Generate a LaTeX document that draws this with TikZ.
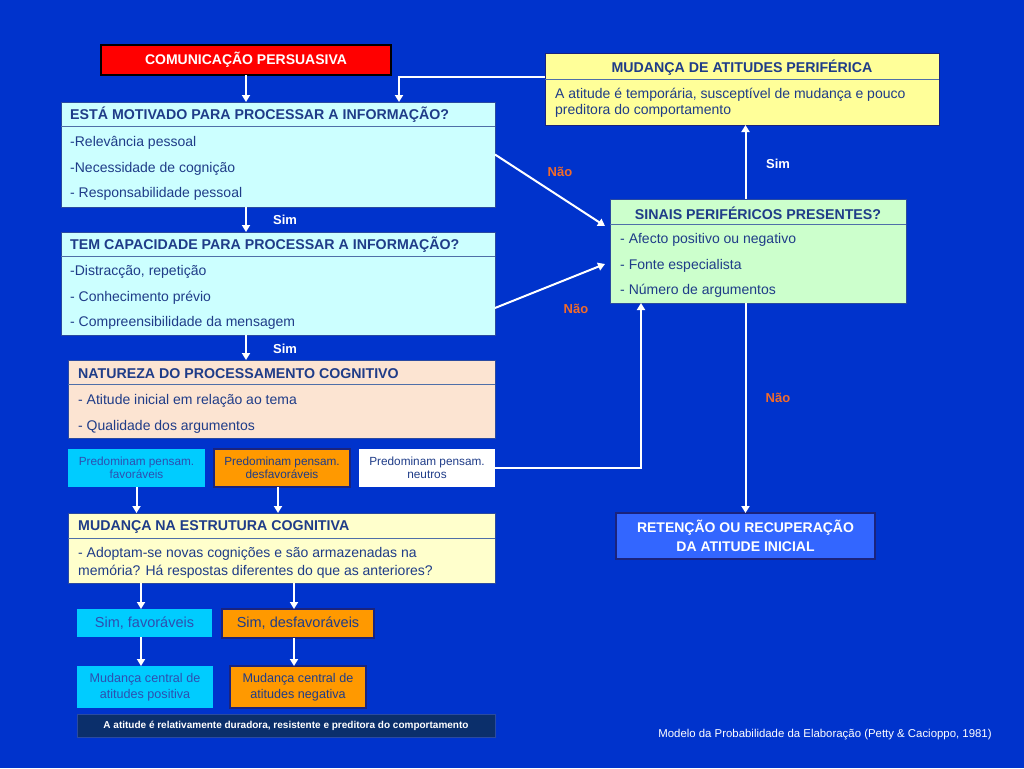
\documentclass[tikz,border=0pt]{standalone}
\usepackage{fontspec}
\setmainfont{Liberation Sans}
\usetikzlibrary{arrows.meta,calc}
\definecolor{bg}{HTML}{0033CC}
\definecolor{lcyan}{HTML}{CCFFFF}
\definecolor{peach}{HTML}{FCE4D2}
\definecolor{lyellow}{HTML}{FFFFCC}
\definecolor{yel}{HTML}{FFFF99}
\definecolor{lgreen}{HTML}{CCFFCC}
\definecolor{cya}{HTML}{00CCFF}
\definecolor{ora}{HTML}{FF9900}
\definecolor{retc}{HTML}{3366FF}
\definecolor{darkbar}{HTML}{0B2F6B}
\definecolor{navy}{HTML}{1F3C88}
\definecolor{midblue}{HTML}{2E4FB0}
\definecolor{nao}{HTML}{F26B2A}
\definecolor{boxline}{HTML}{2A4AA0}
\definecolor{divc}{HTML}{4F6FA8}
\definecolor{darkborder}{HTML}{1A237E}
\begin{document}
\begin{tikzpicture}[x=1pt,y=-1pt,
  box/.style={draw=boxline, line width=1pt, inner sep=0pt, outer sep=0pt, anchor=north west},
  hdr/.style={font=\fontsize{14.2}{16}\selectfont\bfseries, text=navy, anchor=west, inner sep=0pt, yshift=-1pt},
  itm/.style={font=\fontsize{14}{16}\selectfont, text=navy, anchor=west, inner sep=0pt, yshift=-1.5pt},
  small/.style={font=\fontsize{11.8}{13.5}\selectfont, text=midblue, align=center},
  med/.style={font=\fontsize{14.5}{16}\selectfont, text=midblue, align=center},
  divline/.style={draw=divc, line width=1pt},
  arr/.style={draw=white, line width=2pt, -{Triangle[width=8pt,length=7pt]}},
  simlbl/.style={font=\fontsize{13}{15}\selectfont\bfseries, text=white, inner sep=0pt},
  naolbl/.style={font=\fontsize{13}{15}\selectfont\bfseries, text=nao, inner sep=0pt},
  orabox/.style={box, fill=ora, draw=darkborder, line width=2pt}
]
\fill[bg] (0,0) rectangle (1024,768);
\useasboundingbox (0,0) rectangle (1024,768);

% top red box
\node[box, fill=red, draw=black, line width=2pt, minimum width=290pt, minimum height=30pt,
  font=\fontsize{14}{16}\selectfont\bfseries, text=white] (com) at (101,45) {COMUNICAÇÃO PERSUASIVA};

% motivation box
\node[box, fill=lcyan, minimum width=434pt, minimum height=105pt] (mot) at (61,102) {};
\draw[divline] ($(mot.north west)+(0,24)$) -- ($(mot.north east)+(0,24)$);
\node[hdr] (moth) at (70,114) {ESTÁ MOTIVADO PARA PROCESSAR A INFORMAÇÃO?};
\node[itm] (mot1) at (70,141) {-Relevância pessoal};
\node[itm] (mot2) at (70,167) {-Necessidade de cognição};
\node[itm] (mot3) at (70,192) {- Responsabilidade pessoal};

% capacity box
\node[box, fill=lcyan, minimum width=434pt, minimum height=103pt] (cap) at (61,232) {};
\draw[divline] ($(cap.north west)+(0,24)$) -- ($(cap.north east)+(0,24)$);
\node[hdr] (caph) at (70,244) {TEM CAPACIDADE PARA PROCESSAR A INFORMAÇÃO?};
\node[itm] (cap1) at (70,270) {-Distracção, repetição};
\node[itm] (cap2) at (70,296) {- Conhecimento prévio};
\node[itm] (cap3) at (70,321) {- Compreensibilidade da mensagem};

% natureza box
\node[box, fill=peach, minimum width=427pt, minimum height=78pt] (nat) at (68,360) {};
\draw[divline] ($(nat.north west)+(0,24)$) -- ($(nat.north east)+(0,24)$);
\node[hdr] (nath) at (78,373) {NATUREZA DO PROCESSAMENTO COGNITIVO};
\node[itm] (nat1) at (78,399) {- Atitude inicial em relação ao tema};
\node[itm] (nat2) at (78,425) {- Qualidade dos argumentos};

% three small boxes
\node[box, fill=cya, draw=none, minimum width=137pt, minimum height=38pt, small] (fav) at (68,449) {Predominam pensam.\\favoráveis};
\node[orabox, minimum width=136pt, minimum height=38pt, small, text=navy] (des) at (214,449) {Predominam pensam.\\desfavoráveis};
\node[box, fill=white, draw=none, minimum width=136pt, minimum height=38pt, small, text=navy] (neu) at (359,449) {Predominam pensam.\\neutros};

% estrutura cognitiva box
\node[box, fill=lyellow, minimum width=427pt, minimum height=70pt] (est) at (68,513) {};
\draw[divline] ($(est.north west)+(0,25)$) -- ($(est.north east)+(0,25)$);
\node[hdr] (esth) at (78,526) {MUDANÇA NA ESTRUTURA COGNITIVA};
\node[itm, font=\fontsize{14}{18}\selectfont, align=left] (est1) at (78,561) {- Adoptam-se novas cognições e são armazenadas na\\memória? Há respostas diferentes do que as anteriores?};

% sim boxes
\node[box, fill=cya, draw=none, minimum width=135pt, minimum height=28pt, med] (sfav) at (77,609) {Sim, favoráveis};
\node[orabox, minimum width=152pt, minimum height=29pt, med, text=navy] (sdes) at (222,609) {Sim, desfavoráveis};

% central change boxes
\node[box, fill=cya, draw=none, minimum width=136pt, minimum height=42pt, med, font=\fontsize{12.6}{16}\selectfont] (mpos) at (77,666) {Mudança central de\\atitudes positiva};
\node[orabox, minimum width=136pt, minimum height=42pt, med, text=navy, font=\fontsize{12.6}{16}\selectfont] (mneg) at (230,666) {Mudança central de\\atitudes negativa};

% bottom bar
\node[box, fill=darkbar, draw=boxline, minimum width=418pt, minimum height=23pt,
  font=\fontsize{10}{12}\selectfont\bfseries, text=white] (bar) at (77,714) {A atitude é relativamente duradora, resistente e preditora do comportamento};

% peripheral change box
\node[box, fill=yel, draw=darkborder, minimum width=394pt, minimum height=71pt] (per) at (545,54) {};
\draw[divline] ($(per.north west)+(0,25)$) -- ($(per.north east)+(0,25)$);
\node[hdr, anchor=center] (perh) at (742,67) {MUDANÇA DE ATITUDES PERIFÉRICA};
\node[itm, font=\fontsize{14}{16}\selectfont, align=left] (per1) at (555,101) {A atitude é temporária, susceptível de mudança e pouco\\preditora do comportamento};

% peripheral cues box
\node[box, fill=lgreen, minimum width=296pt, minimum height=104pt] (sin) at (610,199) {};
\draw[divline] ($(sin.north west)+(0,25)$) -- ($(sin.north east)+(0,25)$);
\node[hdr, anchor=center] (sinh) at (758,212) {SINAIS PERIFÉRICOS PRESENTES?};
\node[itm] (sin1) at (620,238) {- Afecto positivo ou negativo};
\node[itm] (sin2) at (620,264) {- Fonte especialista};
\node[itm] (sin3) at (620,289) {- Número de argumentos};

% retention box
\node[box, fill=retc, draw=darkborder, line width=2pt, minimum width=259pt, minimum height=46pt,
  font=\fontsize{14}{19}\selectfont\bfseries, text=white, align=center] (ret) at (616,513) {RETENÇÃO OU RECUPERAÇÃO\\DA ATITUDE INICIAL};

% citation
\node[font=\fontsize{11.4}{13}\selectfont, text=white, inner sep=0pt] (cit) at (825,735) {Modelo da Probabilidade da Elaboração (Petty \& Cacioppo, 1981)};

% labels
\node[simlbl] (sim1) at (285,220) {Sim};
\node[simlbl] (sim2) at (285,349) {Sim};
\node[simlbl] (sim3) at (778,164) {Sim};
\node[naolbl] (nao1) at (560,172) {Não};
\node[naolbl] (nao2) at (576,309) {Não};
\node[naolbl] (nao3) at (778,398) {Não};

% helper coordinates
\coordinate (x399) at (399,0);
\coordinate (x641) at (641,0);
\coordinate (x278) at (278,0);
\coordinate (x141) at (141,0);
\coordinate (x294) at (294,0);

% arrows
\draw[arr] (com.south) -- (com.south |- mot.north);
\draw[arr] ($(per.north west)+(0,23)$) -| (mot.north -| x399);
\draw[arr] (mot.south -| com.south) -- (cap.north -| com.south);
\draw[arr] (cap.south -| com.south) -- (nat.north -| com.south);
\draw[arr] (mot.east) -- ($(sin.west)+(-5,-25)$);
\draw[arr] ($(cap.south east)+(0,-27)$) -- ($(sin.west)+(-5,13)$);
\draw[arr] (neu.east) -| (sin.south -| x641);
\draw[arr] (sin.north -| ret.north) -- (per.south -| ret.north);
\draw[arr] (sin.south -| ret.north) -- (ret.north);
\draw[arr] (fav.south) -- (fav.south |- est.north);
\draw[arr] (des.south -| x278) -- (est.north -| x278);
\draw[arr] (est.south -| x141) -- (sfav.north -| x141);
\draw[arr] (est.south -| x294) -- (sdes.north -| x294);
\draw[arr] (sfav.south -| x141) -- (mpos.north -| x141);
\draw[arr] (sdes.south -| x294) -- (mneg.north -| x294);
\end{tikzpicture}
\end{document}
